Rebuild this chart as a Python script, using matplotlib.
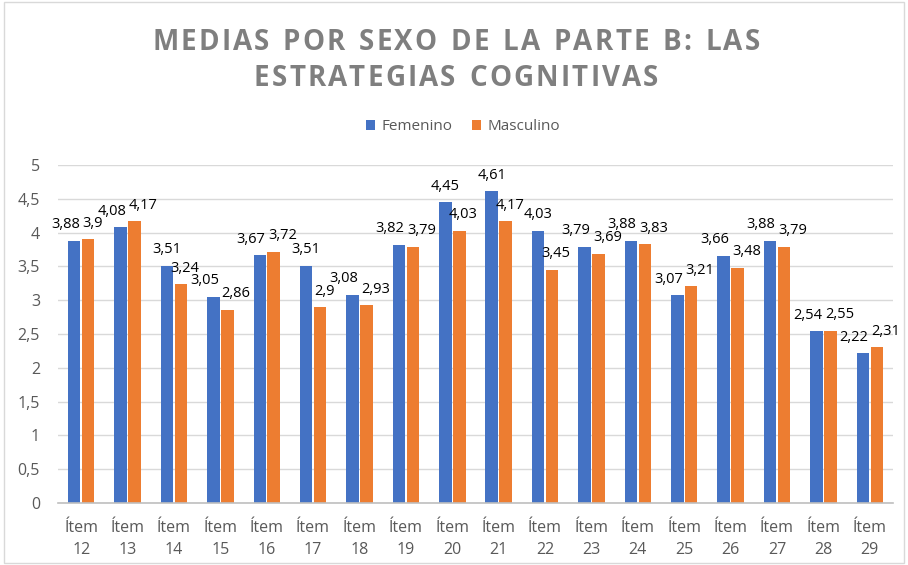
import numpy as np
import matplotlib.pyplot as plt
from matplotlib.patches import Rectangle

items = ['12', '13', '14', '15', '16', '17', '18', '19', '20',
         '21', '22', '23', '24', '25', '26', '27', '28', '29']
femenino = [3.88, 4.08, 3.51, 3.05, 3.67, 3.51, 3.08, 3.82, 4.45,
            4.61, 4.03, 3.79, 3.88, 3.07, 3.66, 3.88, 2.54, 2.22]
masculino = [3.9, 4.17, 3.24, 2.86, 3.72, 2.9, 2.93, 3.79, 4.03,
             4.17, 3.45, 3.69, 3.83, 3.21, 3.48, 3.79, 2.55, 2.31]
yticks = [0, 0.5, 1, 1.5, 2, 2.5, 3, 3.5, 4, 4.5, 5]
title_lines = ['MEDIAS POR SEXO DE LA PARTE B: LAS', 'ESTRATEGIAS COGNITIVAS']

plt.rcParams['font.family'] = ['Open Sans', 'DejaVu Sans']

fig = plt.figure(figsize=(9.08, 5.65), dpi=100)
ax = fig.add_axes([58/908, 62/565, 835/908, 338/565])

x = np.arange(len(items))
w = 0.27
blue = '#4472C4'
orange = '#ED7D31'
b1 = ax.bar(x - w/2 - 0.015, femenino, w, color=blue, label='Femenino')
b2 = ax.bar(x + w/2 + 0.015, masculino, w, color=orange, label='Masculino')

def fmt(v):
    return ('%g' % v).replace('.', ',')

# etiquetas de datos: si chocan, se separan a cada lado del centro del grupo
for i in range(len(items)):
    f, m = femenino[i], masculino[i]
    rf, rm = b1[i], b2[i]
    cf = rf.get_x() + rf.get_width()/2
    cm = rm.get_x() + rm.get_width()/2
    if abs(f - m) < 0.25:
        ax.annotate(fmt(f), (x[i], f), xytext=(-1, 6), textcoords='offset points',
                    ha='right', va='bottom', fontsize=10.5)
        ax.annotate(fmt(m), (x[i], m), xytext=(1, 6), textcoords='offset points',
                    ha='left', va='bottom', fontsize=10.5)
    else:
        ax.annotate(fmt(f), (cf, f), xytext=(0, 6), textcoords='offset points',
                    ha='center', va='bottom', fontsize=10.5)
        ax.annotate(fmt(m), (cm, m), xytext=(3, 6), textcoords='offset points',
                    ha='center', va='bottom', fontsize=10.5)

ax.set_xlim(-0.5, len(items) - 0.5)
ax.set_ylim(0, 5)
ax.set_yticks(yticks)
ax.set_yticklabels([fmt(t) for t in yticks])
ax.set_xticks(x)
ax.set_xticklabels(['Ítem\n' + i for i in items], linespacing=1.55)
ax.tick_params(axis='both', length=0, colors='#595959', labelsize=11.5)
ax.tick_params(axis='x', pad=12)
ax.tick_params(axis='y', pad=13)
ax.grid(axis='y', color='#D9D9D9', linewidth=1)
ax.set_axisbelow(True)
for s in ['top', 'right', 'left']:
    ax.spines[s].set_visible(False)
ax.spines['bottom'].set_color('#BFBFBF')
ax.spines['bottom'].set_linewidth(1.2)

# titulo con espaciado entre letras
renderer = fig.canvas.get_renderer()
track = 2.2
for line, ypix in zip(title_lines, [43, 79]):
    widths = []
    for ch in line:
        t = fig.text(0, 0, ch if ch != ' ' else 'i', fontsize=20, fontweight='bold')
        wpx = t.get_window_extent(renderer).width
        if ch == ' ':
            wpx = wpx * 1.1
        widths.append(wpx)
        t.remove()
    total = sum(widths) + track * (len(line) - 1)
    xpos = 456 - total / 2
    for ch, wpx in zip(line, widths):
        if ch != ' ':
            fig.text(xpos / 908, 1 - ypix / 565, ch, ha='left', va='center',
                     fontsize=20, fontweight='bold', color='#7F7F7F')
        xpos += wpx + track

fig.legend(handles=[b1, b2], loc='center', bbox_to_anchor=(463/908, 1 - 127/565),
           ncol=2, frameon=False, fontsize=11, handlelength=0.6, handleheight=0.6,
           columnspacing=1.3, handletextpad=0.4, labelcolor='#595959')

fig.patches.append(Rectangle((0.004, 0.004), 0.992, 0.992, transform=fig.transFigure,
                             fill=False, edgecolor='#D9D9D9', linewidth=1))

fig.savefig('out.png', dpi=100)
